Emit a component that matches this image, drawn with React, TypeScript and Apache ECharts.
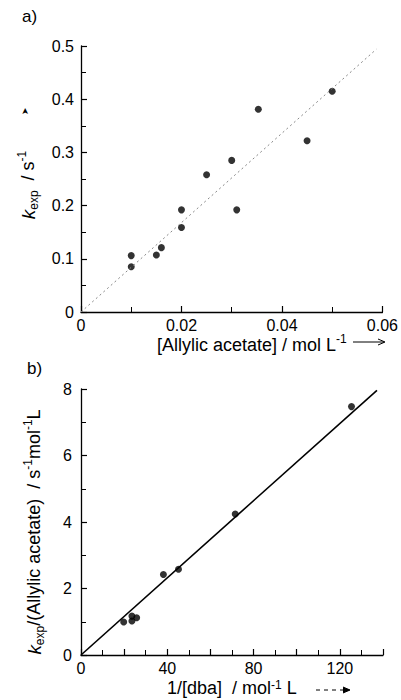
import React, { useEffect, useRef } from "react";
import * as echarts from "echarts";

const pointsA: number[][] = [
  [0.01, 0.106], [0.01, 0.085], [0.015, 0.107], [0.016, 0.121],
  [0.02, 0.192], [0.02, 0.159], [0.025, 0.258], [0.03, 0.285],
  [0.031, 0.192], [0.0353, 0.381], [0.045, 0.322], [0.05, 0.415],
];
const fitA: number[][] = [[0, 0], [0.0588, 0.494]];

const pointsB: number[][] = [
  [19.8, 0.99], [23.6, 1.17], [23.6, 1.02], [25.8, 1.12],
  [38.2, 2.42], [45.2, 2.58], [71.5, 4.24], [125.4, 7.47],
];
const fitB: number[][] = [[0, 0], [137.2, 7.96]];

const FONT = "Liberation Sans, Arial, sans-serif";

export default function App() {
  const ref = useRef<HTMLDivElement>(null);
  useEffect(() => {
    if (!ref.current) return;
    const chart = echarts.init(ref.current, null, { renderer: "svg" });
    const axisCommon = {
      axisLine: { show: true, lineStyle: { color: "#000", width: 1.3 } },
      axisTick: { show: true, inside: true, length: 6, lineStyle: { color: "#000", width: 1.2 } },
      minorTick: { show: true, splitNumber: 2, length: 5, lineStyle: { color: "#000", width: 1 } },
      splitLine: { show: false },
      axisLabel: { color: "#000", fontSize: 16, fontFamily: FONT },
    };
    const rich = {
      m: { fontSize: 18, fontFamily: FONT, color: "#000", lineHeight: 24 },
      i: { fontSize: 19, fontFamily: FONT, color: "#000", fontStyle: "italic", lineHeight: 24 },
      sub: { fontSize: 12, fontFamily: FONT, color: "#000", verticalAlign: "bottom", lineHeight: 11 },
      sup: { fontSize: 12, fontFamily: FONT, color: "#000", verticalAlign: "top", lineHeight: 11 },
    };
    const richTight = {
      m: { fontSize: 18, fontFamily: FONT, color: "#000", lineHeight: 19 },
      sup: { fontSize: 12, fontFamily: FONT, color: "#000", verticalAlign: "top", lineHeight: 10 },
    };
    chart.setOption({
      animation: false,
      grid: [
        { left: 81, top: 46, width: 302, height: 266 },
        { left: 81, top: 389, width: 302, height: 266 },
      ],
      xAxis: [
        {
          gridIndex: 0, type: "value", min: 0, max: 0.06, interval: 0.02,
          ...axisCommon,
          axisLabel: { ...axisCommon.axisLabel, margin: 5 },
        },
        {
          gridIndex: 1, type: "value", min: 0, max: 140, interval: 20,
          ...axisCommon,
          axisLabel: {
            ...axisCommon.axisLabel, margin: 5,
            formatter: (v: number) => (v % 40 === 0 ? String(v) : ""),
          },
        },
      ],
      yAxis: [
        {
          gridIndex: 0, type: "value", min: 0, max: 0.5, interval: 0.1,
          ...axisCommon,
          axisLabel: { ...axisCommon.axisLabel, margin: 7 },
        },
        {
          gridIndex: 1, type: "value", min: 0, max: 8, interval: 2,
          ...axisCommon,
          axisLabel: { ...axisCommon.axisLabel, margin: 9 },
        },
      ],
      series: [
        {
          type: "line", xAxisIndex: 0, yAxisIndex: 0, data: fitA, showSymbol: false,
          lineStyle: { color: "#888", width: 1, type: [2, 3] },
        },
        {
          type: "scatter", xAxisIndex: 0, yAxisIndex: 0, data: pointsA,
          symbolSize: 7, itemStyle: { color: "#000" },
        },
        {
          type: "line", xAxisIndex: 1, yAxisIndex: 1, data: fitB, showSymbol: false,
          lineStyle: { color: "#000", width: 1.6 },
        },
        {
          type: "scatter", xAxisIndex: 1, yAxisIndex: 1, data: pointsB,
          symbolSize: 7, itemStyle: { color: "#000" },
        },
      ],
      graphic: [
        { type: "text", left: 22, top: 8, style: { text: "a)", fontSize: 17, fontFamily: FONT, fill: "#000" } },
        { type: "text", left: 27, top: 360, style: { text: "b)", fontSize: 17, fontFamily: FONT, fill: "#000" } },
        {
          type: "text", x: 28, y: 185, rotation: Math.PI / 2,
          style: {
            text: "{i|k}{sub|exp}{m|  / s}{sup|-1}", rich,
            align: "center", verticalAlign: "middle",
          },
        },
        {
          type: "text", x: 25, y: 111, rotation: Math.PI / 2,
          style: { text: "➤", fontSize: 9, fill: "#000", align: "center", verticalAlign: "middle" },
        },
        {
          type: "text", x: 157, y: 345,
          style: {
            text: "{m|[Allylic acetate] / mol L}{sup|-1}", rich,
            align: "left", verticalAlign: "middle",
          },
        },
        { type: "line", shape: { x1: 353, y1: 342, x2: 384, y2: 342 }, style: { stroke: "#000", lineWidth: 1 } },
        { type: "polyline", shape: { points: [[378, 339], [385, 342], [378, 345]] }, style: { stroke: "#000", lineWidth: 1, fill: "none" } },
        {
          type: "text", x: 34, y: 532, rotation: Math.PI / 2,
          style: {
            text: "{i|k}{sub|exp}{m|/(Allylic acetate)  / s}{sup|-1}{m|mol}{sup|-1}{m|L}", rich,
            align: "center", verticalAlign: "middle",
          },
        },
        {
          type: "text", x: 167, y: 688,
          style: {
            text: "{m|1/[dba]  / mol}{sup|-1}{m| L}", rich: richTight,
            align: "left", verticalAlign: "middle",
          },
        },
        { type: "line", shape: { x1: 316, y1: 690, x2: 349, y2: 690 }, style: { stroke: "#000", lineWidth: 1, lineDash: [4, 4] } },
        { type: "polyline", shape: { points: [[343, 687], [350, 690], [343, 693]] }, style: { stroke: "#000", lineWidth: 1, fill: "#000" } },
      ],
    });
    return () => chart.dispose();
  }, []);
  return (
    <div
      ref={ref}
      style={{ position: "fixed", left: 0, top: 0, width: 401, height: 700, background: "#fff" }}
    />
  );
}
